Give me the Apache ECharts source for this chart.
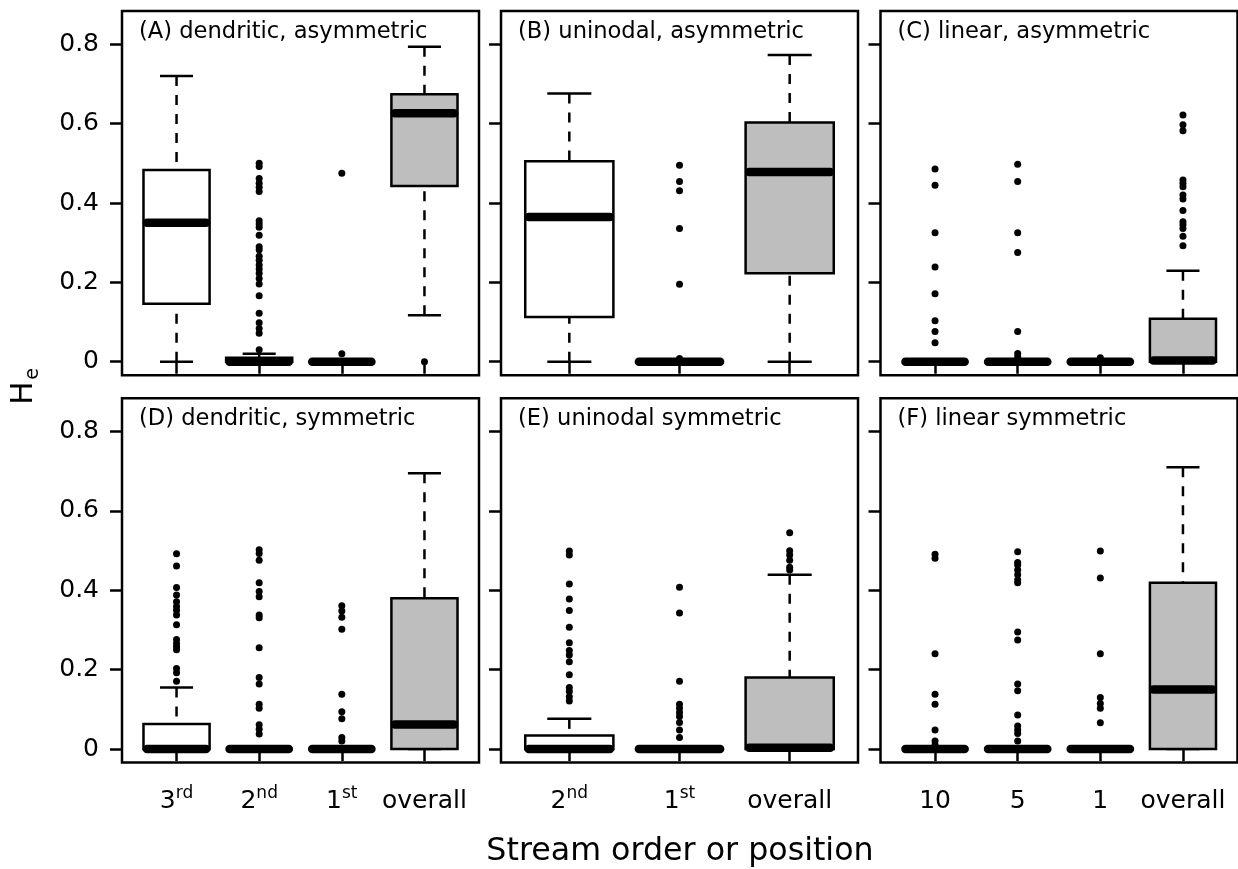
<!DOCTYPE html>
<html><head><meta charset="utf-8">
<script src="https://cdn.jsdelivr.net/npm/echarts@6/dist/echarts.min.js"></script>
<style>html,body{margin:0;padding:0;background:#fff}#c{width:1238px;height:869px}</style>
</head><body><div id="c"></div>
<script>
// ---------- DATA ----------
const yTicks = [0, 0.2, 0.4, 0.6, 0.8];
const titles = ['(A) dendritic, asymmetric', '(B) uninodal, asymmetric', '(C) linear, asymmetric',
                '(D) dendritic, symmetric', '(E) uninodal symmetric', '(F) linear symmetric'];
const xAxisName = 'Stream order or position';

// box stats: [min, q1, median, q3, max]
const catsA = ['3rd', '2nd', '1st', 'overall'];
const boxesA = [[0, 0.146, 0.350, 0.483, 0.720], [0, 0, 0, 0.010, 0.020], [0, 0, 0, 0, 0], [0.117, 0.443, 0.626, 0.674, 0.794]];
const outA = [[],
  [0.500, 0.492, 0.462, 0.450, 0.440, 0.429, 0.355, 0.347, 0.339, 0.319, 0.290, 0.282, 0.266, 0.256, 0.244, 0.234, 0.223, 0.210, 0.196, 0.166, 0.122, 0.098, 0.084, 0.072, 0.030],
  [0.475, 0.020],
  [0]];

const catsB = ['2nd', '1st', 'overall'];
const boxesB = [[0, 0.113, 0.365, 0.505, 0.676], [0, 0, 0, 0, 0], [0, 0.223, 0.478, 0.603, 0.773]];
const outB = [[], [0.495, 0.454, 0.431, 0.336, 0.195, 0.008], []];

const catsC = ['10', '5', '1', 'overall'];
const boxesC = [[0, 0, 0, 0, 0], [0, 0, 0, 0, 0], [0, 0, 0, 0, 0], [0, 0, 0.003, 0.108, 0.229]];
const outC = [
  [0.486, 0.445, 0.325, 0.239, 0.171, 0.103, 0.076, 0.048],
  [0.498, 0.454, 0.325, 0.275, 0.076, 0.021, 0.012],
  [0.010],
  [0.622, 0.597, 0.582, 0.458, 0.450, 0.441, 0.420, 0.410, 0.381, 0.353, 0.345, 0.336, 0.316, 0.292]];

const catsD = ['3rd', '2nd', '1st', 'overall'];
const boxesD = [[0, 0, 0, 0.063, 0.155], [0, 0, 0, 0, 0], [0, 0, 0, 0, 0], [0, 0, 0.062, 0.380, 0.695]];
const outD = [
  [0.492, 0.461, 0.407, 0.388, 0.371, 0.359, 0.350, 0.338, 0.313, 0.276, 0.266, 0.258, 0.250, 0.203, 0.192, 0.171],
  [0.502, 0.493, 0.476, 0.419, 0.397, 0.384, 0.338, 0.331, 0.255, 0.180, 0.164, 0.113, 0.103, 0.061, 0.050, 0.038],
  [0.361, 0.348, 0.332, 0.302, 0.138, 0.094, 0.076, 0.029, 0.020],
  []];

const catsE = ['2nd', '1st', 'overall'];
const boxesE = [[0, 0, 0, 0.034, 0.076], [0, 0, 0, 0, 0], [0, 0, 0.003, 0.180, 0.439]];
const outE = [
  [0.499, 0.489, 0.416, 0.378, 0.349, 0.307, 0.268, 0.248, 0.237, 0.220, 0.187, 0.155, 0.145, 0.132, 0.121],
  [0.408, 0.343, 0.171, 0.113, 0.103, 0.092, 0.082, 0.067, 0.048, 0.029],
  [0.545, 0.500, 0.489, 0.476, 0.458, 0.451]];

const catsF = ['10', '5', '1', 'overall'];
const boxesF = [[0, 0, 0, 0, 0], [0, 0, 0, 0, 0], [0, 0, 0, 0, 0], [0, 0, 0.150, 0.419, 0.710]];
const outF = [
  [0.491, 0.481, 0.240, 0.138, 0.113, 0.048, 0.020, 0.010],
  [0.497, 0.470, 0.464, 0.451, 0.439, 0.426, 0.419, 0.295, 0.275, 0.164, 0.147, 0.086, 0.058, 0.048, 0.039, 0.020],
  [0.499, 0.431, 0.240, 0.130, 0.115, 0.103, 0.066],
  []];

// ---------- LAYOUT ----------
const FONT = 'DejaVu Sans';
const colLeft = [122, 501, 880.5];
const rowTop = [11, 398.3];
const PW = 357, PH = 364.2;
const Y_MIN = -0.034, Y_MAX = 0.884;
const GREY = '#bebebe';
const LW = 2.5;
const MED_LW = 8.5;

const panels = [
  {cats: catsA, boxes: boxesA, out: outA, col: 0, row: 0},
  {cats: catsB, boxes: boxesB, out: outB, col: 1, row: 0},
  {cats: catsC, boxes: boxesC, out: outC, col: 2, row: 0},
  {cats: catsD, boxes: boxesD, out: outD, col: 0, row: 1},
  {cats: catsE, boxes: boxesE, out: outE, col: 1, row: 1},
  {cats: catsF, boxes: boxesF, out: outF, col: 2, row: 1}
];

function catLabel(c) {
  const m = /^(\d+)(st|nd|rd|th)$/.exec(c);
  if (m) return '{n|' + m[1] + '}{s|' + m[2] + '}';
  return '{n|' + c + '}';
}

function renderBox(params, api) {
  const x = api.value(0);
  const mn = api.value(1), q1 = api.value(2), md = api.value(3), q3 = api.value(4), mx = api.value(5);
  const fill = api.value(6) ? GREY : '#ffffff';
  const halfW = api.size([0.8, 0])[0] / 2;
  const capHalf = halfW / 2;
  const pMin = api.coord([x, mn]), pQ1 = api.coord([x, q1]), pMd = api.coord([x, md]);
  const pQ3 = api.coord([x, q3]), pMx = api.coord([x, mx]);
  const cx = pMd[0];
  const thin = {stroke: '#000', lineWidth: LW};
  const dashed = {stroke: '#000', lineWidth: LW, lineDash: [10, 9]};
  const inset = MED_LW / 2 - 0.8;
  const ch = [];
  // whiskers drawn from the extremes toward the box (as R does)
  ch.push({type: 'line', shape: {x1: cx, y1: pMx[1], x2: cx, y2: pQ3[1]}, style: dashed});
  ch.push({type: 'line', shape: {x1: cx, y1: pMin[1], x2: cx, y2: pQ1[1]}, style: dashed});
  ch.push({type: 'line', shape: {x1: cx - capHalf, y1: pMx[1], x2: cx + capHalf, y2: pMx[1]}, style: thin});
  ch.push({type: 'line', shape: {x1: cx - capHalf, y1: pMin[1], x2: cx + capHalf, y2: pMin[1]}, style: thin});
  ch.push({type: 'rect', shape: {x: cx - halfW, y: pQ3[1], width: 2 * halfW, height: pQ1[1] - pQ3[1]},
           style: {fill: fill, stroke: '#000', lineWidth: LW}});
  ch.push({type: 'line', shape: {x1: cx - halfW + inset, y1: pMd[1], x2: cx + halfW - inset, y2: pMd[1]},
           style: {stroke: '#000', lineWidth: MED_LW, lineCap: 'round'}});
  return {type: 'group', children: ch};
}

const grids = [], xAxes = [], yAxes = [], series = [], graphics = [];
panels.forEach((p, i) => {
  const n = p.cats.length;
  const ticks = p.cats.map((c, j) => j + 1);
  grids.push({left: colLeft[p.col], top: rowTop[p.row], width: PW, height: PH, show: true,
    borderColor: '#000', borderWidth: LW, backgroundColor: 'transparent', containLabel: false, outerBoundsMode: 'none'});
  xAxes.push({gridIndex: i, type: 'value', min: 0.5 - 0.04 * n, max: n + 0.5 + 0.04 * n,
    axisLine: {show: false}, splitLine: {show: false},
    axisTick: {show: true, customValues: ticks, length: 12, lineStyle: {color: '#000', width: LW}},
    axisLabel: {show: p.row === 1, customValues: ticks, margin: 23, color: '#000', fontFamily: FONT,
      formatter: v => catLabel(p.cats[Math.round(v) - 1]),
      rich: {n: {fontSize: 25, lineHeight: 32, fontFamily: FONT, color: '#000'},
             s: {fontSize: 17, lineHeight: 14, verticalAlign: 'top', fontFamily: FONT, color: '#000'}}}});
  yAxes.push({gridIndex: i, type: 'value', min: Y_MIN, max: Y_MAX,
    axisLine: {show: false}, splitLine: {show: false},
    axisTick: {show: true, customValues: yTicks, length: 12, lineStyle: {color: '#000', width: LW}},
    axisLabel: {show: p.col === 0, customValues: yTicks, margin: 23, color: '#000', fontFamily: FONT, fontSize: 25,
      formatter: v => (Math.abs(v) < 1e-9 ? '0' : v.toFixed(1))}});
  series.push({type: 'custom', xAxisIndex: i, yAxisIndex: i, renderItem: renderBox, clip: false, silent: true,
    animation: false, encode: {x: 0, y: [1, 2, 3, 4, 5]},
    data: p.boxes.map((b, j) => [j + 1, b[0], b[1], b[2], b[3], b[4], p.cats[j] === 'overall' ? 1 : 0])});
  const pts = [];
  p.out.forEach((arr, j) => arr.forEach(v => pts.push([j + 1, v])));
  series.push({type: 'scatter', xAxisIndex: i, yAxisIndex: i, symbol: 'circle', symbolSize: 7, z: 5,
    itemStyle: {color: '#000', opacity: 1}, silent: true, animation: false, data: pts});
  graphics.push({type: 'text', x: colLeft[p.col] + 17, y: rowTop[p.row] + 21.2, silent: true,
    style: {text: titles[i], fontSize: 22.6, fontFamily: FONT, fill: '#000', align: 'left', verticalAlign: 'middle'}});
});

graphics.push({type: 'text', x: 680, y: 852, silent: true,
  style: {text: xAxisName, fontSize: 31.7, fontFamily: FONT, fill: '#000', align: 'center', verticalAlign: 'middle'}});
graphics.push({type: 'text', x: 24, y: 393, rotation: Math.PI / 2, silent: true,
  style: {text: 'H', fontSize: 31, fontFamily: FONT, fill: '#000', align: 'center', verticalAlign: 'middle'}});
graphics.push({type: 'text', x: 33, y: 374, rotation: Math.PI / 2, silent: true,
  style: {text: 'e', fontSize: 19, fontFamily: FONT, fill: '#000', align: 'center', verticalAlign: 'middle'}});

const chart = echarts.init(document.getElementById('c'), null, {renderer: 'canvas'});
chart.setOption({
  animation: false,
  backgroundColor: '#fff',
  textStyle: {fontFamily: FONT},
  grid: grids, xAxis: xAxes, yAxis: yAxes, series: series, graphic: graphics
});
</script></body></html>
